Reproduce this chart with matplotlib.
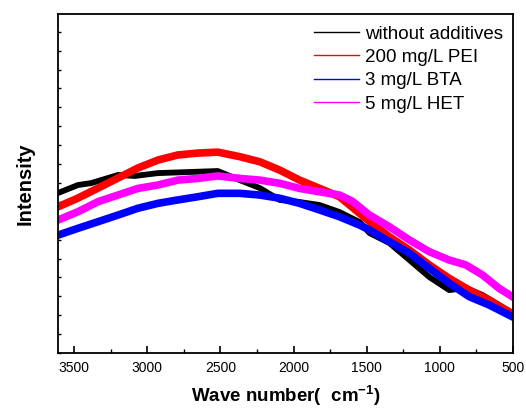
import matplotlib
matplotlib.use("Agg")
import matplotlib.pyplot as plt
from matplotlib.ticker import MultipleLocator

plt.rcParams["font.family"] = ["Liberation Sans", "DejaVu Sans"]
plt.rcParams["mathtext.fontset"] = "custom"
plt.rcParams["mathtext.bf"] = "Liberation Sans:bold"
plt.rcParams["mathtext.rm"] = "Liberation Sans"

# wave numbers (cm-1) and intensity (a.u.)
wn_black = [3609, 3473, 3384, 3200, 3084, 2927, 2702, 2518, 2368, 2231, 2095, 1959,
            1822, 1686, 1549, 1481, 1345, 1208, 1072, 936, 822, 709, 595, 500]
int_black = [8.47, 8.89, 8.99, 9.42, 9.37, 9.52, 9.58, 9.63, 9.15, 8.73, 8.10, 7.99,
             7.83, 7.46, 6.93, 6.35, 5.82, 4.92, 4.02, 3.33, 3.44, 3.07, 2.54, 2.06]

wn_red = [3609, 3473, 3336, 3200, 3064, 2927, 2791, 2654, 2518, 2368, 2231, 2095,
          1959, 1822, 1686, 1600, 1481, 1345, 1208, 1072, 936, 799, 663, 500]
int_red = [7.74, 8.20, 8.73, 9.26, 9.79, 10.21, 10.48, 10.58, 10.63, 10.39, 10.12, 9.68,
           9.15, 8.71, 8.27, 7.72, 6.95, 6.15, 5.45, 4.66, 3.95, 3.33, 2.80, 2.06]

wn_blue = [3609, 3473, 3336, 3200, 3064, 2927, 2791, 2654, 2518, 2368, 2231, 2095,
           1959, 1822, 1686, 1549, 1481, 1345, 1208, 1072, 936, 799, 663, 500]
int_blue = [6.24, 6.60, 6.95, 7.30, 7.66, 7.92, 8.10, 8.27, 8.45, 8.45, 8.36, 8.19,
            7.92, 7.57, 7.21, 6.77, 6.51, 5.89, 5.28, 4.48, 3.69, 2.98, 2.54, 1.90]

wn_mag = [3609, 3473, 3336, 3200, 3064, 2927, 2791, 2654, 2518, 2368, 2231, 2095,
          1959, 1822, 1686, 1600, 1481, 1345, 1208, 1072, 936, 822, 709, 595, 500]
int_mag = [7.04, 7.48, 8.01, 8.36, 8.71, 8.89, 9.15, 9.24, 9.37, 9.24, 9.15, 8.98,
           8.71, 8.53, 8.36, 8.04, 7.30, 6.68, 5.98, 5.36, 4.92, 4.66, 4.13, 3.42, 2.96]

labels = ["without additives", "200 mg/L PEI", "3 mg/L BTA", "5 mg/L HET"]

fig = plt.figure(figsize=(5.26, 4.08), dpi=100)
ax = fig.add_axes([0.1103, 0.1348, 0.865, 0.8309])

ax.plot(wn_black, int_black, color="#000000", lw=4.2, label=labels[0])
ax.plot(wn_red, int_red, color="#ff0000", lw=5.5, label=labels[1])
ax.plot(wn_blue, int_blue, color="#0000ff", lw=5.5, label=labels[2])
ax.plot(wn_mag, int_mag, color="#ff00ff", lw=5.5, label=labels[3])

ax.set_xlim(3610, 500)
ax.set_ylim(0, 17.94)
ax.xaxis.set_major_locator(MultipleLocator(500))
ax.xaxis.set_minor_locator(MultipleLocator(250))
ax.yaxis.set_major_locator(MultipleLocator(1))
ax.tick_params(axis="x", which="major", direction="in", length=5, width=1.2, labelsize=10, pad=6)
ax.tick_params(axis="x", which="minor", direction="in", length=3, width=1.0)
ax.tick_params(axis="y", which="major", direction="in", length=2.5, width=1.0, labelleft=False)
for sp in ax.spines.values():
    sp.set_linewidth(1.3)

ax.set_xlabel(r"Wave number(  $\mathbf{cm^{-1}}$)", fontsize=13.5, fontweight="bold", labelpad=6)
ax.set_ylabel("Intensity", fontsize=14.5, fontweight="bold", labelpad=17)

leg = ax.legend(loc="upper right", frameon=False, fontsize=13.5, handlelength=2.4,
                handletextpad=0.35, labelspacing=0.33, borderaxespad=0.0,
                bbox_to_anchor=(0.995, 0.988))
for line in leg.get_lines():
    line.set_linewidth(1.0)

fig.savefig("out.png", dpi=100)
